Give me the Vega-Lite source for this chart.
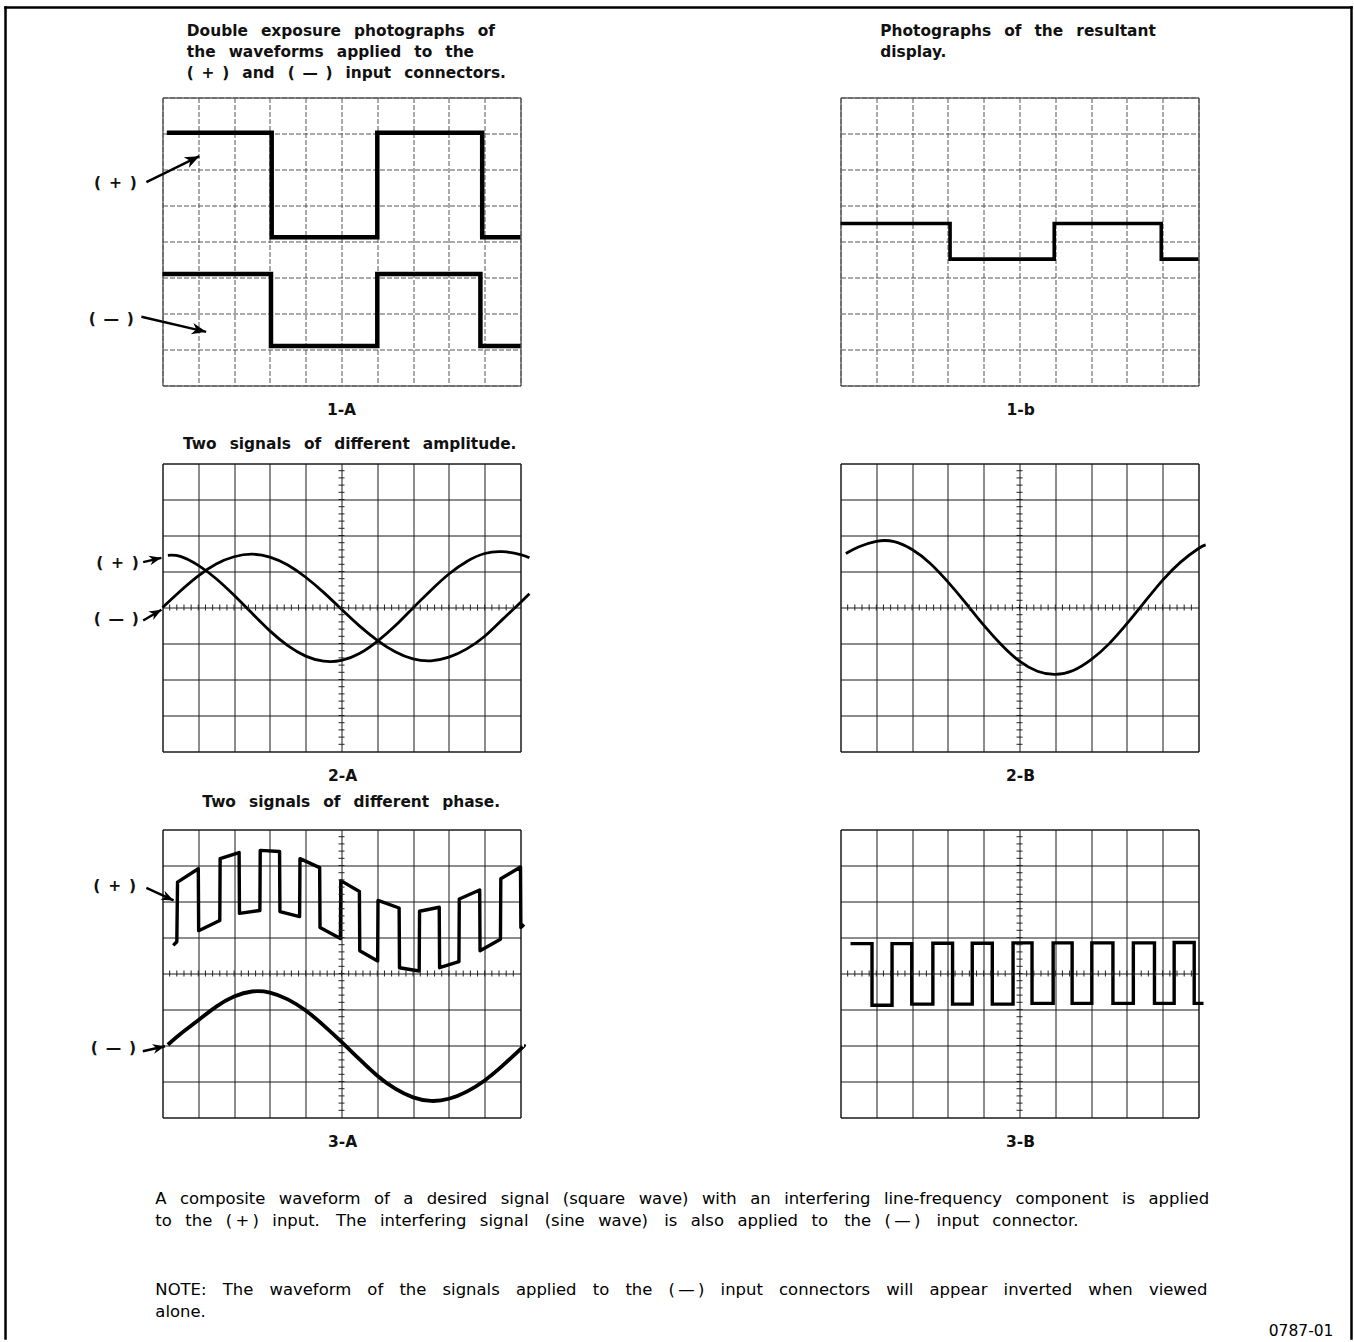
{
  "$schema": "https://vega.github.io/schema/vega-lite/v6.json",
  "background": "white",
  "padding": {"left": 2.5, "top": 4.5, "right": 0, "bottom": 0},
  "autosize": {"type": "pad"},
  "columns": 2,
  "spacing": {"row": 78, "column": 320},
  "bounds": "flush",
  "datasets": {
    "frame": [
      {"x": -4.385, "y": 6.5, "x2": -4.385, "y2": -30.47},
      {"x": -4.385, "y": 6.5, "x2": 33.212, "y2": 6.5},
      {"x": 33.212, "y": 6.5, "x2": 33.212, "y2": -30.47}
    ],
    "minor_x": [
      {"t": 0.2}, {"t": 0.4}, {"t": 0.6}, {"t": 0.8}, {"t": 1}, {"t": 1.2}, {"t": 1.4}, {"t": 1.6}, {"t": 1.8}, {"t": 2},
      {"t": 2.2}, {"t": 2.4}, {"t": 2.6}, {"t": 2.8}, {"t": 3}, {"t": 3.2}, {"t": 3.4}, {"t": 3.6}, {"t": 3.8}, {"t": 4},
      {"t": 4.2}, {"t": 4.4}, {"t": 4.6}, {"t": 4.8}, {"t": 5}, {"t": 5.2}, {"t": 5.4}, {"t": 5.6}, {"t": 5.8}, {"t": 6},
      {"t": 6.2}, {"t": 6.4}, {"t": 6.6}, {"t": 6.8}, {"t": 7}, {"t": 7.2}, {"t": 7.4}, {"t": 7.6}, {"t": 7.8}, {"t": 8},
      {"t": 8.2}, {"t": 8.4}, {"t": 8.6}, {"t": 8.8}, {"t": 9}, {"t": 9.2}, {"t": 9.4}, {"t": 9.6}, {"t": 9.8}
    ],
    "minor_y": [
      {"t": -3.8}, {"t": -3.6}, {"t": -3.4}, {"t": -3.2}, {"t": -3}, {"t": -2.8}, {"t": -2.6}, {"t": -2.4}, {"t": -2.2}, {"t": -2},
      {"t": -1.8}, {"t": -1.6}, {"t": -1.4}, {"t": -1.2}, {"t": -1}, {"t": -0.8}, {"t": -0.6}, {"t": -0.4}, {"t": -0.2}, {"t": 0},
      {"t": 0.2}, {"t": 0.4}, {"t": 0.6}, {"t": 0.8}, {"t": 1}, {"t": 1.2}, {"t": 1.4}, {"t": 1.6}, {"t": 1.8}, {"t": 2},
      {"t": 2.2}, {"t": 2.4}, {"t": 2.6}, {"t": 2.8}, {"t": 3}, {"t": 3.2}, {"t": 3.4}, {"t": 3.6}, {"t": 3.8}
    ],
    "w1a": [
      {"s": "plus", "x": 0.12, "y": 3.02}, {"s": "plus", "x": 3.05, "y": 0.12}, {"s": "plus", "x": 6.0, "y": 3.02},
      {"s": "plus", "x": 8.93, "y": 0.12}, {"s": "plus", "x": 10.0, "y": 0.12},
      {"s": "minus", "x": 0.0, "y": -0.9}, {"s": "minus", "x": 3.03, "y": -2.9}, {"s": "minus", "x": 6.0, "y": -0.9},
      {"s": "minus", "x": 8.88, "y": -2.9}, {"s": "minus", "x": 10.0, "y": -2.9}
    ],
    "w1b": [
      {"x": 0.0, "y": 0.5}, {"x": 3.06, "y": -0.49}, {"x": 5.97, "y": 0.5}, {"x": 8.96, "y": -0.49}, {"x": 10.0, "y": -0.49}
    ],
    "w2a": [
      {"s": "plus", "x": 0.15, "y": 1.45}, {"s": "plus", "x": 0.5, "y": 1.42}, {"s": "plus", "x": 1.0, "y": 1.17},
      {"s": "plus", "x": 1.5, "y": 0.8}, {"s": "plus", "x": 2.0, "y": 0.34}, {"s": "plus", "x": 2.5, "y": -0.16},
      {"s": "plus", "x": 3.0, "y": -0.65}, {"s": "plus", "x": 3.5, "y": -1.06}, {"s": "plus", "x": 4.0, "y": -1.35},
      {"s": "plus", "x": 4.5, "y": -1.49}, {"s": "plus", "x": 5.0, "y": -1.47}, {"s": "plus", "x": 5.5, "y": -1.28},
      {"s": "plus", "x": 6.0, "y": -0.94}, {"s": "plus", "x": 6.5, "y": -0.51}, {"s": "plus", "x": 7.0, "y": -0.01},
      {"s": "plus", "x": 7.5, "y": 0.48}, {"s": "plus", "x": 8.0, "y": 0.93}, {"s": "plus", "x": 8.5, "y": 1.28},
      {"s": "plus", "x": 9.0, "y": 1.5}, {"s": "plus", "x": 9.5, "y": 1.55}, {"s": "plus", "x": 10.0, "y": 1.47},
      {"s": "plus", "x": 10.25, "y": 1.38},
      {"s": "minus", "x": 0.0, "y": 0.0}, {"s": "minus", "x": 0.5, "y": 0.46}, {"s": "minus", "x": 1.0, "y": 0.88},
      {"s": "minus", "x": 1.5, "y": 1.21}, {"s": "minus", "x": 2.0, "y": 1.41}, {"s": "minus", "x": 2.5, "y": 1.48},
      {"s": "minus", "x": 3.0, "y": 1.4}, {"s": "minus", "x": 3.5, "y": 1.18}, {"s": "minus", "x": 4.0, "y": 0.84},
      {"s": "minus", "x": 4.5, "y": 0.42}, {"s": "minus", "x": 5.0, "y": -0.05}, {"s": "minus", "x": 5.5, "y": -0.51},
      {"s": "minus", "x": 6.0, "y": -0.91}, {"s": "minus", "x": 6.5, "y": -1.23}, {"s": "minus", "x": 7.0, "y": -1.43},
      {"s": "minus", "x": 7.5, "y": -1.48}, {"s": "minus", "x": 8.0, "y": -1.38}, {"s": "minus", "x": 8.5, "y": -1.15},
      {"s": "minus", "x": 9.0, "y": -0.8}, {"s": "minus", "x": 9.5, "y": -0.33}, {"s": "minus", "x": 10.0, "y": 0.14},
      {"s": "minus", "x": 10.25, "y": 0.38}
    ],
    "w2b": [
      {"x": 0.15, "y": 1.5}, {"x": 0.5, "y": 1.68}, {"x": 1.0, "y": 1.84}, {"x": 1.5, "y": 1.83}, {"x": 2.0, "y": 1.61},
      {"x": 2.5, "y": 1.23}, {"x": 3.0, "y": 0.71}, {"x": 3.5, "y": 0.12}, {"x": 4.0, "y": -0.49}, {"x": 4.5, "y": -1.04},
      {"x": 5.0, "y": -1.49}, {"x": 5.5, "y": -1.77}, {"x": 6.0, "y": -1.86}, {"x": 6.5, "y": -1.75}, {"x": 7.0, "y": -1.45},
      {"x": 7.5, "y": -1.01}, {"x": 8.0, "y": -0.45}, {"x": 8.5, "y": 0.16}, {"x": 9.0, "y": 0.76}, {"x": 9.5, "y": 1.26},
      {"x": 10.0, "y": 1.64}, {"x": 10.2, "y": 1.74}
    ],
    "w3a_plus": [
      {"x": 0.3, "y": 0.78}, {"x": 0.4, "y": 0.88}, {"x": 0.42, "y": 2.54}, {"x": 1.0, "y": 2.91}, {"x": 1.01, "y": 1.19},
      {"x": 1.6, "y": 1.47}, {"x": 1.61, "y": 3.19}, {"x": 2.14, "y": 3.36}, {"x": 2.15, "y": 1.67}, {"x": 2.72, "y": 1.75},
      {"x": 2.73, "y": 3.42}, {"x": 3.27, "y": 3.39}, {"x": 3.28, "y": 1.72}, {"x": 3.83, "y": 1.58}, {"x": 3.84, "y": 3.19},
      {"x": 4.39, "y": 2.94}, {"x": 4.4, "y": 1.28}, {"x": 4.97, "y": 0.97}, {"x": 4.98, "y": 2.58}, {"x": 5.5, "y": 2.28},
      {"x": 5.51, "y": 0.63}, {"x": 6.01, "y": 0.35}, {"x": 6.02, "y": 2.03}, {"x": 6.61, "y": 1.82}, {"x": 6.62, "y": 0.16},
      {"x": 7.17, "y": 0.07}, {"x": 7.18, "y": 1.73}, {"x": 7.73, "y": 1.84}, {"x": 7.74, "y": 0.16}, {"x": 8.28, "y": 0.33},
      {"x": 8.29, "y": 2.07}, {"x": 8.86, "y": 2.32}, {"x": 8.87, "y": 0.63}, {"x": 9.44, "y": 0.95}, {"x": 9.45, "y": 2.63},
      {"x": 10.0, "y": 2.96}, {"x": 10.01, "y": 1.28}, {"x": 10.1, "y": 1.36}
    ],
    "w3a_minus": [
      {"x": 0.15, "y": -1.98}, {"x": 0.5, "y": -1.68}, {"x": 1.0, "y": -1.3}, {"x": 1.5, "y": -0.92}, {"x": 2.0, "y": -0.64},
      {"x": 2.5, "y": -0.5}, {"x": 3.0, "y": -0.53}, {"x": 3.5, "y": -0.72}, {"x": 4.0, "y": -1.03}, {"x": 4.5, "y": -1.44},
      {"x": 5.0, "y": -1.9}, {"x": 5.5, "y": -2.38}, {"x": 6.0, "y": -2.84}, {"x": 6.5, "y": -3.2}, {"x": 7.0, "y": -3.44},
      {"x": 7.5, "y": -3.54}, {"x": 8.0, "y": -3.48}, {"x": 8.5, "y": -3.28}, {"x": 9.0, "y": -2.97}, {"x": 9.5, "y": -2.56},
      {"x": 10.0, "y": -2.1}, {"x": 10.1, "y": -2.0}
    ],
    "w3b": [
      {"x": 0.28, "y": 0.83}, {"x": 0.88, "y": -0.88}, {"x": 1.44, "y": 0.83}, {"x": 1.99, "y": -0.85}, {"x": 2.58, "y": 0.84},
      {"x": 3.13, "y": -0.85}, {"x": 3.68, "y": 0.84}, {"x": 4.24, "y": -0.85}, {"x": 4.82, "y": 0.85}, {"x": 5.35, "y": -0.83},
      {"x": 5.94, "y": 0.85}, {"x": 6.47, "y": -0.83}, {"x": 7.02, "y": 0.85}, {"x": 7.61, "y": -0.83}, {"x": 8.18, "y": 0.85},
      {"x": 8.77, "y": -0.83}, {"x": 9.32, "y": 0.86}, {"x": 9.88, "y": -0.83}, {"x": 10.14, "y": -0.83}
    ],
    "arrows1a": [
      {"lab": "(\u2002+\u2002)", "lx": -0.72, "ly": 1.63, "x": -0.45, "y": 1.65, "x2": 1.03, "y2": 2.37, "a": -26},
      {"lab": "(\u2002\u2014\u2002)", "lx": -0.8, "ly": -2.14, "x": -0.59, "y": -2.09, "x2": 1.22, "y2": -2.51, "a": 13}
    ],
    "arrows2a": [
      {"lab": "(\u2002+\u2002)", "lx": -0.66, "ly": 1.24, "x": -0.54, "y": 1.26, "x2": -0.03, "y2": 1.38, "a": -13},
      {"lab": "(\u2002\u2014\u2002)", "lx": -0.66, "ly": -0.32, "x": -0.54, "y": -0.36, "x2": -0.03, "y2": -0.06, "a": -30}
    ],
    "arrows3a": [
      {"lab": "(\u2002+\u2002)", "lx": -0.74, "ly": 2.44, "x": -0.45, "y": 2.38, "x2": 0.31, "y2": 2.03, "a": 25},
      {"lab": "(\u2002\u2014\u2002)", "lx": -0.74, "ly": -2.07, "x": -0.55, "y": -2.16, "x2": 0.07, "y2": -2.02, "a": -13}
    ]
  },
  "concat": [
    {
      "width": 358,
      "height": 288,
      "layer": [
        {
          "data": {"name": "w1a"},
          "mark": {"type": "line", "interpolate": "step-after", "strokeWidth": 4.5, "color": "#000"},
          "encoding": {
            "x": {"field": "x", "type": "quantitative", "title": null, "scale": {"domain": [0, 10]}, "axis": {"gridColor": "#555", "gridDash": [5, 2]}},
            "y": {"field": "y", "type": "quantitative", "title": null, "scale": {"domain": [-4, 4]}, "axis": {"gridColor": "#555", "gridDash": [5, 2]}},
            "detail": {"field": "s"}
          }
        },
        {
          "data": {"name": "arrows1a"},
          "mark": {"type": "rule", "strokeWidth": 2.4, "color": "#000"},
          "encoding": {
            "x": {"field": "x", "type": "quantitative", "title": null},
            "y": {"field": "y", "type": "quantitative", "title": null},
            "x2": {"field": "x2"},
            "y2": {"field": "y2"}
          }
        },
        {
          "data": {"name": "arrows1a"},
          "mark": {"type": "point", "shape": "M0,0L-2,-0.8L-1.4,0L-2,0.8Z", "filled": true, "size": 210, "color": "#000", "opacity": 1},
          "encoding": {
            "x": {"field": "x2", "type": "quantitative", "title": null},
            "y": {"field": "y2", "type": "quantitative", "title": null},
            "angle": {"field": "a", "type": "quantitative", "scale": null}
          }
        },
        {
          "data": {"name": "arrows1a"},
          "mark": {"type": "text", "align": "right", "baseline": "middle", "fontWeight": "bold", "fontSize": 15.5},
          "encoding": {
            "x": {"field": "lx", "type": "quantitative", "title": null},
            "y": {"field": "ly", "type": "quantitative", "title": null},
            "text": {"field": "lab"}
          }
        },
        {
          "data": {"values": [{}]},
          "mark": {
            "type": "text",
            "text": [
              "Double\u2002 exposure\u2002 photographs\u2002 of",
              "the\u2002 waveforms\u2002 applied\u2002 to\u2002 the",
              "(\u2002+\u2002)\u2002 and\u2002 (\u2002\u2014\u2002)\u2002 input\u2002 connectors."
            ],
            "align": "left", "baseline": "alphabetic", "fontWeight": "bold", "fontSize": 15.4, "lineHeight": 21
          },
          "encoding": {
            "x": {"datum": 0.68, "type": "quantitative", "title": null},
            "y": {"datum": 5.71, "type": "quantitative", "title": null}
          }
        },
        {
          "data": {"values": [{}]},
          "mark": {"type": "text", "text": "1-A", "align": "center", "baseline": "alphabetic", "fontWeight": "bold", "fontSize": 15.5},
          "encoding": {
            "x": {"datum": 5.0, "type": "quantitative", "title": null},
            "y": {"datum": -4.83, "type": "quantitative", "title": null}
          }
        },
        {
          "data": {"name": "frame"},
          "mark": {"type": "rule", "strokeWidth": 2.5, "color": "#000", "strokeCap": "square"},
          "encoding": {
            "x": {"field": "x", "type": "quantitative", "title": null},
            "y": {"field": "y", "type": "quantitative", "title": null},
            "x2": {"field": "x2"},
            "y2": {"field": "y2"}
          }
        }
      ]
    },
    {
      "width": 358,
      "height": 288,
      "layer": [
        {
          "data": {"name": "w1b"},
          "mark": {"type": "line", "interpolate": "step-after", "strokeWidth": 3.6, "color": "#000"},
          "encoding": {
            "x": {"field": "x", "type": "quantitative", "title": null, "scale": {"domain": [0, 10]}, "axis": {"gridColor": "#555", "gridDash": [5, 2]}},
            "y": {"field": "y", "type": "quantitative", "title": null, "scale": {"domain": [-4, 4]}, "axis": {"gridColor": "#555", "gridDash": [5, 2]}}
          }
        },
        {
          "data": {"values": [{}]},
          "mark": {
            "type": "text",
            "text": ["Photographs\u2002 of\u2002 the\u2002 resultant", "display."],
            "align": "left", "baseline": "alphabetic", "fontWeight": "bold", "fontSize": 15.4, "lineHeight": 21
          },
          "encoding": {
            "x": {"datum": 1.11, "type": "quantitative", "title": null},
            "y": {"datum": 5.71, "type": "quantitative", "title": null}
          }
        },
        {
          "data": {"values": [{}]},
          "mark": {"type": "text", "text": "1-b", "align": "center", "baseline": "alphabetic", "fontWeight": "bold", "fontSize": 15.5},
          "encoding": {
            "x": {"datum": 5.03, "type": "quantitative", "title": null},
            "y": {"datum": -4.83, "type": "quantitative", "title": null}
          }
        }
      ]
    },
    {
      "width": 358,
      "height": 288,
      "layer": [
        {
          "data": {"name": "w2a"},
          "mark": {"type": "line", "interpolate": "natural", "strokeWidth": 2.8, "color": "#000"},
          "encoding": {
            "x": {"field": "x", "type": "quantitative", "title": null, "scale": {"domain": [0, 10]}},
            "y": {"field": "y", "type": "quantitative", "title": null, "scale": {"domain": [-4, 4]}},
            "detail": {"field": "s"}
          }
        },
        {
          "data": {"name": "minor_x"},
          "mark": {"type": "tick", "orient": "vertical", "size": 6, "thickness": 1, "color": "#222", "opacity": 1},
          "encoding": {
            "x": {"field": "t", "type": "quantitative", "title": null},
            "y": {"datum": 0, "type": "quantitative", "title": null}
          }
        },
        {
          "data": {"name": "minor_y"},
          "mark": {"type": "tick", "orient": "horizontal", "size": 6, "thickness": 1, "color": "#222", "opacity": 1},
          "encoding": {
            "y": {"field": "t", "type": "quantitative", "title": null},
            "x": {"datum": 5, "type": "quantitative", "title": null}
          }
        },
        {
          "data": {"name": "arrows2a"},
          "mark": {"type": "rule", "strokeWidth": 2.4, "color": "#000"},
          "encoding": {
            "x": {"field": "x", "type": "quantitative", "title": null},
            "y": {"field": "y", "type": "quantitative", "title": null},
            "x2": {"field": "x2"},
            "y2": {"field": "y2"}
          }
        },
        {
          "data": {"name": "arrows2a"},
          "mark": {"type": "point", "shape": "M0,0L-2,-0.8L-1.4,0L-2,0.8Z", "filled": true, "size": 150, "color": "#000", "opacity": 1},
          "encoding": {
            "x": {"field": "x2", "type": "quantitative", "title": null},
            "y": {"field": "y2", "type": "quantitative", "title": null},
            "angle": {"field": "a", "type": "quantitative", "scale": null}
          }
        },
        {
          "data": {"name": "arrows2a"},
          "mark": {"type": "text", "align": "right", "baseline": "middle", "fontWeight": "bold", "fontSize": 15.5},
          "encoding": {
            "x": {"field": "lx", "type": "quantitative", "title": null},
            "y": {"field": "ly", "type": "quantitative", "title": null},
            "text": {"field": "lab"}
          }
        },
        {
          "data": {"values": [{}]},
          "mark": {"type": "text", "text": "Two\u2002 signals\u2002 of\u2002 different\u2002 amplitude.", "align": "center", "baseline": "alphabetic", "fontWeight": "bold", "fontSize": 15.4},
          "encoding": {
            "x": {"datum": 5.23, "type": "quantitative", "title": null},
            "y": {"datum": 4.4, "type": "quantitative", "title": null}
          }
        },
        {
          "data": {"values": [{}]},
          "mark": {"type": "text", "text": "2-A", "align": "center", "baseline": "alphabetic", "fontWeight": "bold", "fontSize": 15.5},
          "encoding": {
            "x": {"datum": 5.03, "type": "quantitative", "title": null},
            "y": {"datum": -4.83, "type": "quantitative", "title": null}
          }
        }
      ]
    },
    {
      "width": 358,
      "height": 288,
      "layer": [
        {
          "data": {"name": "w2b"},
          "mark": {"type": "line", "interpolate": "natural", "strokeWidth": 2.8, "color": "#000"},
          "encoding": {
            "x": {"field": "x", "type": "quantitative", "title": null, "scale": {"domain": [0, 10]}},
            "y": {"field": "y", "type": "quantitative", "title": null, "scale": {"domain": [-4, 4]}}
          }
        },
        {
          "data": {"name": "minor_x"},
          "mark": {"type": "tick", "orient": "vertical", "size": 6, "thickness": 1, "color": "#222", "opacity": 1},
          "encoding": {
            "x": {"field": "t", "type": "quantitative", "title": null},
            "y": {"datum": 0, "type": "quantitative", "title": null}
          }
        },
        {
          "data": {"name": "minor_y"},
          "mark": {"type": "tick", "orient": "horizontal", "size": 6, "thickness": 1, "color": "#222", "opacity": 1},
          "encoding": {
            "y": {"field": "t", "type": "quantitative", "title": null},
            "x": {"datum": 5, "type": "quantitative", "title": null}
          }
        },
        {
          "data": {"values": [{}]},
          "mark": {"type": "text", "text": "2-B", "align": "center", "baseline": "alphabetic", "fontWeight": "bold", "fontSize": 15.5},
          "encoding": {
            "x": {"datum": 5.03, "type": "quantitative", "title": null},
            "y": {"datum": -4.83, "type": "quantitative", "title": null}
          }
        }
      ]
    },
    {
      "width": 358,
      "height": 288,
      "layer": [
        {
          "data": {"name": "w3a_plus"},
          "mark": {"type": "line", "interpolate": "linear", "strokeWidth": 3.4, "color": "#000", "strokeJoin": "round"},
          "encoding": {
            "x": {"field": "x", "type": "quantitative", "title": null, "scale": {"domain": [0, 10]}},
            "y": {"field": "y", "type": "quantitative", "title": null, "scale": {"domain": [-4, 4]}}
          }
        },
        {
          "data": {"name": "w3a_minus"},
          "mark": {"type": "line", "interpolate": "natural", "strokeWidth": 3.8, "color": "#000"},
          "encoding": {
            "x": {"field": "x", "type": "quantitative", "title": null},
            "y": {"field": "y", "type": "quantitative", "title": null}
          }
        },
        {
          "data": {"name": "minor_x"},
          "mark": {"type": "tick", "orient": "vertical", "size": 6, "thickness": 1, "color": "#222", "opacity": 1},
          "encoding": {
            "x": {"field": "t", "type": "quantitative", "title": null},
            "y": {"datum": 0, "type": "quantitative", "title": null}
          }
        },
        {
          "data": {"name": "minor_y"},
          "mark": {"type": "tick", "orient": "horizontal", "size": 6, "thickness": 1, "color": "#222", "opacity": 1},
          "encoding": {
            "y": {"field": "t", "type": "quantitative", "title": null},
            "x": {"datum": 5, "type": "quantitative", "title": null}
          }
        },
        {
          "data": {"name": "arrows3a"},
          "mark": {"type": "rule", "strokeWidth": 2.4, "color": "#000"},
          "encoding": {
            "x": {"field": "x", "type": "quantitative", "title": null},
            "y": {"field": "y", "type": "quantitative", "title": null},
            "x2": {"field": "x2"},
            "y2": {"field": "y2"}
          }
        },
        {
          "data": {"name": "arrows3a"},
          "mark": {"type": "point", "shape": "M0,0L-2,-0.8L-1.4,0L-2,0.8Z", "filled": true, "size": 150, "color": "#000", "opacity": 1},
          "encoding": {
            "x": {"field": "x2", "type": "quantitative", "title": null},
            "y": {"field": "y2", "type": "quantitative", "title": null},
            "angle": {"field": "a", "type": "quantitative", "scale": null}
          }
        },
        {
          "data": {"name": "arrows3a"},
          "mark": {"type": "text", "align": "right", "baseline": "middle", "fontWeight": "bold", "fontSize": 15.5},
          "encoding": {
            "x": {"field": "lx", "type": "quantitative", "title": null},
            "y": {"field": "ly", "type": "quantitative", "title": null},
            "text": {"field": "lab"}
          }
        },
        {
          "data": {"values": [{}]},
          "mark": {"type": "text", "text": "Two\u2002 signals\u2002 of\u2002 different\u2002 phase.", "align": "center", "baseline": "alphabetic", "fontWeight": "bold", "fontSize": 15.4},
          "encoding": {
            "x": {"datum": 5.27, "type": "quantitative", "title": null},
            "y": {"datum": 4.63, "type": "quantitative", "title": null}
          }
        },
        {
          "data": {"values": [{}]},
          "mark": {"type": "text", "text": "3-A", "align": "center", "baseline": "alphabetic", "fontWeight": "bold", "fontSize": 15.5},
          "encoding": {
            "x": {"datum": 5.03, "type": "quantitative", "title": null},
            "y": {"datum": -4.83, "type": "quantitative", "title": null}
          }
        },
        {
          "data": {"values": [{}]},
          "mark": {
            "type": "text",
            "text": [
              "A\u2002 composite\u2002 waveform\u2002 of\u2002 a\u2002 desired\u2002 signal\u2002 (square\u2002 wave)\u2002 with\u2002 an\u2002 interfering\u2002 line-frequency\u2002 component\u2002 is\u2002 applied",
              "to\u2002 the\u2002 (\u2009+\u2009)\u2002 input.\u2002\u2006 The\u2002 interfering\u2002 signal\u2002\u2006 (sine\u2002 wave)\u2002\u2006 is\u2002 also\u2002 applied\u2002 to\u2002\u2006 the\u2002 (\u2009\u2014\u2009)\u2002\u2006 input\u2002 connector."
            ],
            "align": "left", "baseline": "alphabetic", "fontSize": 16.45, "lineHeight": 22, "color": "#000"
          },
          "encoding": {
            "x": {"datum": -0.2, "type": "quantitative", "title": null},
            "y": {"datum": -6.39, "type": "quantitative", "title": null}
          }
        },
        {
          "data": {"values": [{}]},
          "mark": {
            "type": "text",
            "text": [
              "NOTE:\u2002\u2006 The\u2002\u2006 waveform\u2002\u2006 of\u2002\u2006 the\u2002\u2006 signals\u2002\u2006 applied\u2002\u2006 to\u2002\u2006 the\u2002\u2006 (\u2009\u2014\u2009)\u2002\u2006 input\u2002\u2006 connectors\u2002\u2006 will\u2002\u2006 appear\u2002\u2006 inverted\u2002\u2006 when\u2002\u2006 viewed",
              "alone."
            ],
            "align": "left", "baseline": "alphabetic", "fontSize": 16.45, "lineHeight": 22, "color": "#000"
          },
          "encoding": {
            "x": {"datum": -0.2, "type": "quantitative", "title": null},
            "y": {"datum": -8.94, "type": "quantitative", "title": null}
          }
        }
      ]
    },
    {
      "width": 358,
      "height": 288,
      "layer": [
        {
          "data": {"name": "w3b"},
          "mark": {"type": "line", "interpolate": "step-after", "strokeWidth": 3.4, "color": "#000"},
          "encoding": {
            "x": {"field": "x", "type": "quantitative", "title": null, "scale": {"domain": [0, 10]}},
            "y": {"field": "y", "type": "quantitative", "title": null, "scale": {"domain": [-4, 4]}}
          }
        },
        {
          "data": {"name": "minor_x"},
          "mark": {"type": "tick", "orient": "vertical", "size": 6, "thickness": 1, "color": "#222", "opacity": 1},
          "encoding": {
            "x": {"field": "t", "type": "quantitative", "title": null},
            "y": {"datum": 0, "type": "quantitative", "title": null}
          }
        },
        {
          "data": {"name": "minor_y"},
          "mark": {"type": "tick", "orient": "horizontal", "size": 6, "thickness": 1, "color": "#222", "opacity": 1},
          "encoding": {
            "y": {"field": "t", "type": "quantitative", "title": null},
            "x": {"datum": 5, "type": "quantitative", "title": null}
          }
        },
        {
          "data": {"values": [{}]},
          "mark": {"type": "text", "text": "3-B", "align": "center", "baseline": "alphabetic", "fontWeight": "bold", "fontSize": 15.5},
          "encoding": {
            "x": {"datum": 5.03, "type": "quantitative", "title": null},
            "y": {"datum": -4.83, "type": "quantitative", "title": null}
          }
        },
        {
          "data": {"values": [{}]},
          "mark": {"type": "text", "text": "0787-01", "align": "right", "baseline": "alphabetic", "fontSize": 15.5, "color": "#000"},
          "encoding": {
            "x": {"datum": 13.77, "type": "quantitative", "title": null},
            "y": {"datum": -10.06, "type": "quantitative", "title": null}
          }
        }
      ]
    }
  ],
  "config": {
    "view": {"stroke": "#1a1a1a", "strokeWidth": 1},
    "axis": {"grid": true, "labels": false, "ticks": false, "domain": false, "gridColor": "#1a1a1a", "gridWidth": 1, "gridOpacity": 1},
    "axisX": {"tickCount": 10},
    "axisY": {"tickCount": 8},
    "text": {"font": "DejaVu Sans", "color": "#111"}
  }
}
